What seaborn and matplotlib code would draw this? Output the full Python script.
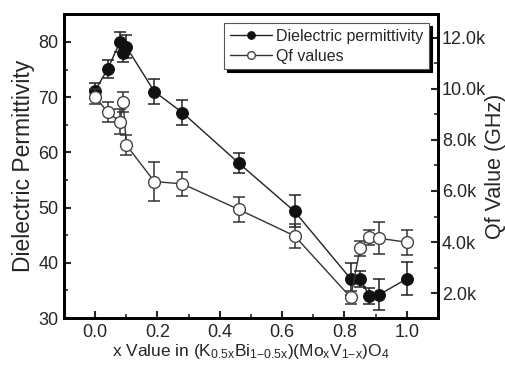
import numpy as np
import pandas as pd
import seaborn as sns
import matplotlib.pyplot as plt
from matplotlib.ticker import MultipleLocator, FuncFormatter

# composition x
x_vals = [0.0, 0.04, 0.08, 0.09, 0.10, 0.19, 0.28, 0.46, 0.64, 0.82, 0.85, 0.88, 0.91, 1.0]
# dielectric permittivity and its error
eps = [71.2, 75.1, 80.0, 78.0, 79.1, 71.0, 67.2, 58.1, 49.3, 37.1, 37.1, 34.0, 34.2, 37.1]
eps_err = [1.3, 1.7, 1.8, 1.6, 2.1, 2.2, 2.3, 1.8, 2.9, 2.9, 1.5, 1.4, 2.8, 3.0]
# Qf values (GHz) and error
qf = [9700, 9090, 8720, 9480, 7800, 6370, 6280, 5280, 4240, 1830, 3750, 4180, 4150, 3990]
qf_err = [300, 400, 480, 400, 400, 780, 470, 490, 470, 260, 280, 300, 620, 490]

df = pd.DataFrame({'x': x_vals, 'eps': eps, 'eps_err': eps_err,
                   'qf': qf, 'qf_err': qf_err})

sns.set_style("ticks")
plt.rcParams['font.family'] = ['Liberation Sans', 'DejaVu Sans']
plt.rcParams['mathtext.default'] = 'regular'
plt.rcParams['xtick.direction'] = 'in'
plt.rcParams['ytick.direction'] = 'in'

fig = plt.figure(figsize=(5.06, 3.66), dpi=100)
ax = fig.add_axes([0.1265, 0.131, 0.739, 0.831])
ax2 = ax.twinx()

ax.errorbar(df['x'], df['eps'], yerr=df['eps_err'], fmt='none', ecolor='#222222',
            elinewidth=1.1, capsize=4, capthick=1.1, zorder=2)
sns.lineplot(data=df, x='x', y='eps', ax=ax, color='#222222', lw=1.0, marker='o',
             markersize=8.5, markerfacecolor='#111111', markeredgecolor='#111111',
             sort=False, zorder=3, label='Dielectric permittivity', legend=False)

ax2.errorbar(df['x'], df['qf'], yerr=df['qf_err'], fmt='none', ecolor='#333333',
             elinewidth=1.1, capsize=4, capthick=1.1, zorder=2)
sns.lineplot(data=df, x='x', y='qf', ax=ax2, color='#333333', lw=1.0, marker='o',
             markersize=8.5, markerfacecolor='white', markeredgecolor='#444444',
             markeredgewidth=1.0, sort=False, zorder=3, label='Qf values', legend=False)

ax.set_xlim(-0.1, 1.1)
ax.set_ylim(30, 85.07)
ax2.set_ylim(1020, 12940)

ax.xaxis.set_major_locator(MultipleLocator(0.2))
ax.xaxis.set_minor_locator(MultipleLocator(0.1))
ax.yaxis.set_major_locator(MultipleLocator(10))
ax.yaxis.set_minor_locator(MultipleLocator(5))
ax2.yaxis.set_major_locator(MultipleLocator(2000))
ax2.yaxis.set_minor_locator(MultipleLocator(1000))
ax2.yaxis.set_major_formatter(FuncFormatter(lambda v, p: f'{v/1000:.1f}k'))
ax.xaxis.set_major_formatter(FuncFormatter(lambda v, p: f'{v:.1f}'))

for a in (ax, ax2):
    for s in a.spines.values():
        s.set_linewidth(2.0)
        s.set_color('black')
ax.tick_params(which='major', length=5, width=1.5, labelsize=13, top=False, pad=4)
ax.tick_params(which='minor', length=3, width=1.2, top=False)
ax2.tick_params(which='major', length=5, width=1.5, labelsize=13, pad=3)
ax2.tick_params(which='minor', length=3, width=1.2)

ax.set_ylabel('Dielectric Permittivity', fontsize=16.5, labelpad=2)
ax2.set_ylabel('Qf Value (GHz)', fontsize=15.5, labelpad=-1)
ax.set_xlabel(r'x Value in (K$_{0.5x}$Bi$_{1{-}0.5x}$)(Mo$_x$V$_{1{-}x}$)O$_4$',
              fontsize=12.5, labelpad=1)

h1, l1 = ax.get_legend_handles_labels()
h2, l2 = ax2.get_legend_handles_labels()
leg = ax2.legend(h1 + h2, l1 + l2, loc='upper right', bbox_to_anchor=(0.985, 0.98),
                 fontsize=11.5, frameon=True, fancybox=False, framealpha=1,
                 edgecolor='#555555', shadow={'color': 'black', 'alpha': 1},
                 handlelength=2.6, handletextpad=0.3, borderpad=0.35, labelspacing=0.3,
                 borderaxespad=0.2)
leg.get_frame().set_linewidth(0.8)
for h in leg.legend_handles:
    h.set_markersize(5.5)

fig.savefig('out.png', dpi=100)
